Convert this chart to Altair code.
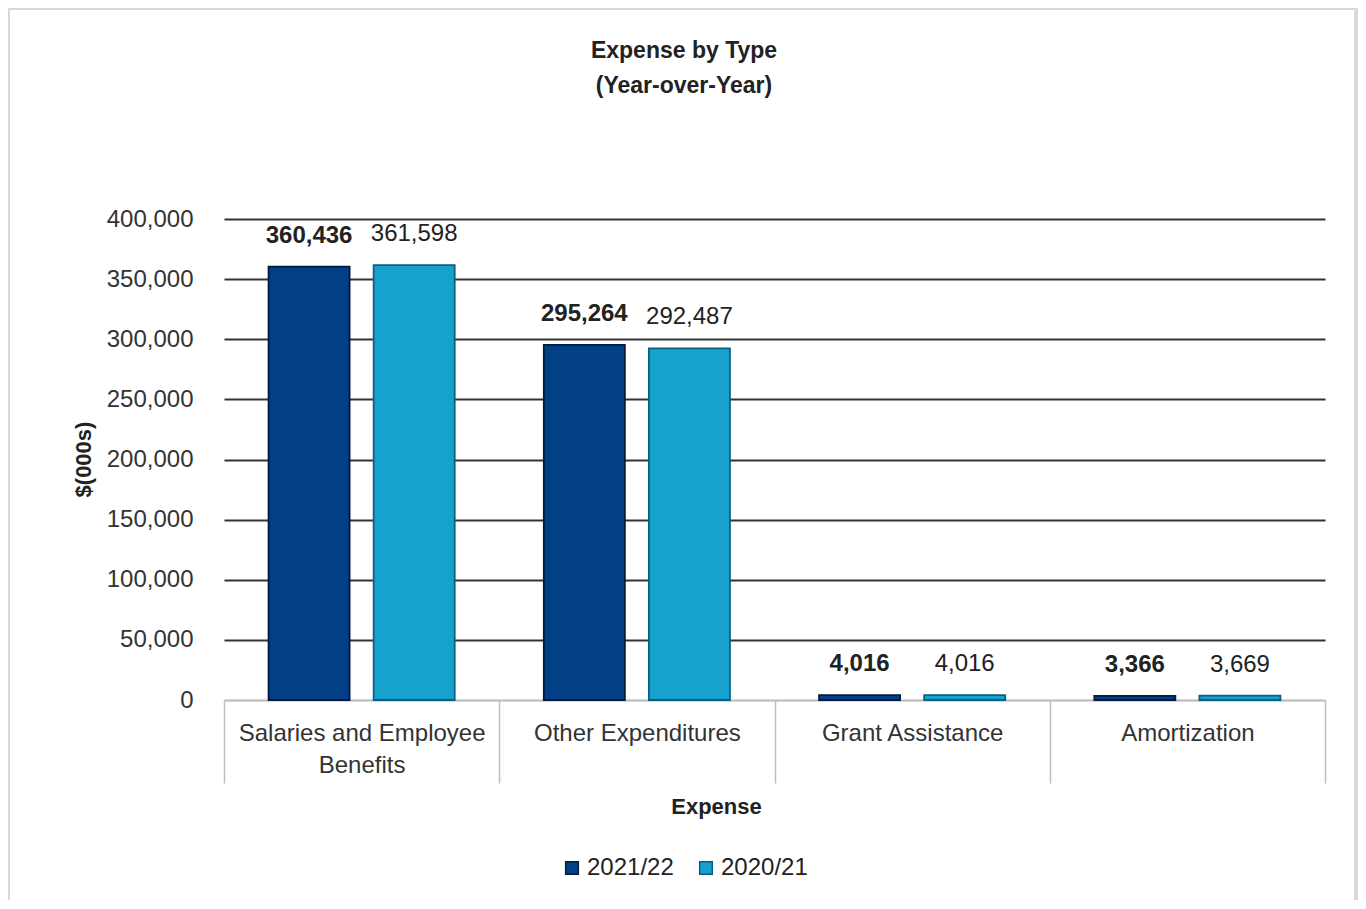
import altair as alt
import pandas as pd

categories = ["Salaries and Employee Benefits", "Other Expenditures", "Grant Assistance", "Amortization"]
series = ["2021/22", "2020/21"]
values_2122 = [360436, 295264, 4016, 3366]
values_2021 = [361598, 292487, 4016, 3669]
y_ticks = [0, 50000, 100000, 150000, 200000, 250000, 300000, 350000, 400000]
title_lines = ["Expense by Type", "(Year-over-Year)"]

rows = []
for c, a, b in zip(categories, values_2122, values_2021):
    rows.append({"Expense": c, "Year": series[0], "Value": a})
    rows.append({"Expense": c, "Year": series[1], "Value": b})
df = pd.DataFrame(rows)

FONT = "Liberation Sans"
FS = 24
fill_colors = ["#013f86", "#16a2cc"]
stroke_colors = ["#061a3c", "#0b5f85"]

x_enc = alt.X("Expense:N", sort=categories,
              scale=alt.Scale(paddingInner=0, paddingOuter=0),
              axis=alt.Axis(title="Expense", labelAngle=0, domainColor="#bfbfbf", domainWidth=1.5,
                            tickColor="#bfbfbf", tickWidth=1.5, tickBand="extent", tickSize=83,
                            labelPadding=-62, labelBaseline="top", labelLineHeight=32, labelLimit=400,
                            labelFont=FONT, labelFontSize=FS, labelColor="#333333",
                            labelExpr="datum.label == 'Salaries and Employee Benefits' ? ['Salaries and Employee', 'Benefits'] : datum.label",
                            titleFont=FONT, titleFontSize=22, titleFontWeight="bold", titleColor="#222222",
                            titleX=492, titleY=106, titleBaseline="middle"))
xoff_enc = alt.XOffset("Year:N", sort=series, scale=alt.Scale(paddingInner=0.229, paddingOuter=0.424))
y_enc = alt.Y("Value:Q", scale=alt.Scale(domain=[0, 400000], nice=False),
              axis=alt.Axis(values=y_ticks, format=",d", title="$(000s)", domain=False, ticks=False, tickSize=0,
                            labelPadding=31, labelFont=FONT, labelFontSize=FS, labelColor="#333333",
                            gridColor={"condition": {"test": "datum.value === 0", "value": "#bfbfbf"}, "value": "#333333"},
                            gridWidth=2,
                            titleFont=FONT, titleFontSize=22, titleFontWeight="bold", titleColor="#222222",
                            titleX=-141, titleY=240, titleAngle=-90, titleAlign="center", titleBaseline="middle"))

base = alt.Chart(df)

frame = alt.Chart(pd.DataFrame({"a": [1]})).mark_rect(fillOpacity=0, stroke="#d9d9d9", strokeWidth=4).encode(
    x=alt.value(-216), x2=alt.value(1132), y=alt.value(-211), y2=alt.value(720))

title_df = pd.DataFrame({"line": title_lines, "ypos": [-168, -133]})
title = alt.Chart(title_df).mark_text(font=FONT, fontSize=23, fontWeight="bold", color="#222222",
                                      baseline="middle", align="center").encode(
    x=alt.value(460), y=alt.Y("ypos:Q", scale=None), text="line:N")

bars = base.mark_bar(strokeWidth=1.8).encode(
    x=x_enc, xOffset=xoff_enc, y=y_enc,
    color=alt.Color("Year:N", sort=series,
                    scale=alt.Scale(domain=series, range=fill_colors),
                    legend=alt.Legend(title=None, orient="none", legendX=336, legendY=637, direction="horizontal",
                                      symbolType="square", symbolSize=160, symbolStrokeWidth=1.5,
                                      labelFont=FONT, labelFontSize=FS, labelColor="#222222",
                                      columnPadding=20, labelOffset=3)),
    stroke=alt.Stroke("Year:N", sort=series, scale=alt.Scale(domain=series, range=stroke_colors), legend=None),
)

labels_a = base.transform_filter(alt.datum.Year == series[0]).mark_text(
    font=FONT, fontSize=FS, fontWeight="bold", color="#222222", baseline="middle", dy=-31).encode(
    x=alt.X("Expense:N", sort=categories), xOffset=alt.XOffset("Year:N", sort=series), y="Value:Q",
    text=alt.Text("Value:Q", format=",d"))
labels_b = base.transform_filter(alt.datum.Year == series[1]).mark_text(
    font=FONT, fontSize=FS, fontWeight="normal", color="#222222", baseline="middle", dy=-31).encode(
    x=alt.X("Expense:N", sort=categories), xOffset=alt.XOffset("Year:N", sort=series), y="Value:Q",
    text=alt.Text("Value:Q", format=",d"))

chart = alt.layer(bars, labels_a, labels_b, frame, title).properties(
    width=1101, height=481,
    autosize=alt.AutoSizeParams(type="none"),
    padding={"left": 216, "top": 211, "right": 33, "bottom": 200},
    background="white",
).configure_view(stroke=None)

chart.save("out.html", embed_options={"renderer": "svg", "actions": False})
